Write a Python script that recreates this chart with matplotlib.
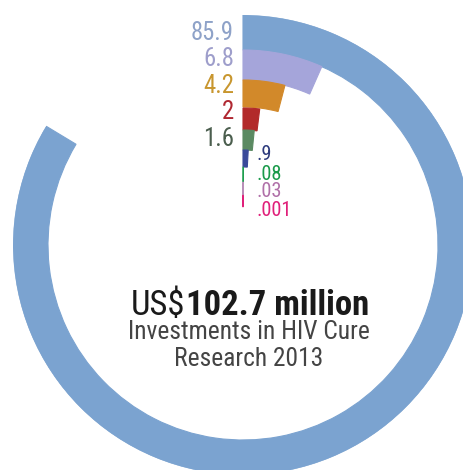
import numpy as np
import matplotlib
matplotlib.use("Agg")
import matplotlib.pyplot as plt
from matplotlib import font_manager

# funding in US$ million, one ring per source
total = 102.7
values = [85.9, 6.8, 4.2, 2, 1.6, .9, .08, .03, .001]
labels = ["85.9", "6.8", "4.2", "2", "1.6", ".9", ".08", ".03", ".001"]
bar_colors = ["#7ba3d0", "#a5a5da", "#d2892a", "#b22a2a", "#5b8a62",
              "#3a4a9a", "#1f9e4e", "#b98fb8", "#e0207a"]
label_colors = ["#8ea2c8", "#9e9ecb", "#c8962e", "#b02832", "#4b5e4e",
                "#2c3a7c", "#1a9a4a", "#b070a8", "#e0207a"]

# ring edges (pixels from the centre)
r_outer = [230, 195, 165, 137, 115, 95, 78, 63, 50]
r_inner = [195, 165, 138, 115, 95, 78, 63, 50, 38]

# pick a narrow sans if one is around
prefs = ["Roboto Condensed", "Fira Sans Condensed", "Archivo Narrow",
         "PT Sans Narrow", "Barlow Condensed", "IBM Plex Sans Condensed",
         "Open Sans Condensed", "Liberation Sans Narrow", "DejaVu Sans"]
have = {f.name for f in font_manager.fontManager.ttflist}
fam = [p for p in prefs if p in have][:1] + ["DejaVu Sans"]

W, H = 463, 470
fig = plt.figure(figsize=(W / 100, H / 100), dpi=100)
fig.patch.set_facecolor("white")
rend = fig.canvas.get_renderer()

# centre of the rings at (243, 245) px, outer radius 230 px
cx, cy, R = 243, 245, 230
ax = fig.add_axes([(cx - R) / W, (H - cy - R) / H, 2 * R / W, 2 * R / H],
                  projection="polar")
ax.set_theta_zero_location("N")
ax.set_theta_direction(-1)
ax.set_ylim(0, R)
ax.axis("off")

for v, c, ro, ri in zip(values, bar_colors, r_outer, r_inner):
    ax.bar(0, ro - ri, width=np.deg2rad(v / total * 360), bottom=ri,
           align="edge", color=c, edgecolor=c, linewidth=0.8)


def px(x, y):
    return x / W, 1 - y / H


def fit(texts, width, size_max):
    # shrink the font until the texts together are `width` pixels wide
    w = sum(t.get_window_extent(rend).width for t in texts)
    s = min(size_max, texts[0].get_fontsize() * width / w)
    for t in texts:
        t.set_fontsize(s)
    return s


# value labels: big ones left of the axis line, small ones right
big_y = [33, 59, 86, 112, 139]
small_y = [155, 174, 192, 210]
big = [fig.text(*px(234, big_y[i]), labels[i], color=label_colors[i],
                ha="right", va="center", fontsize=18, family=fam)
       for i in range(5)]
s = fit(big[:1], 43, 19)
for t in big:
    t.set_fontsize(s)
small = [fig.text(*px(257, small_y[j]), labels[5 + j],
                  color=label_colors[5 + j], ha="left", va="center",
                  fontsize=14, family=fam)
         for j in range(4)]
s = fit(small[-1:], 36, 15)
for t in small:
    t.set_fontsize(s)

# centre caption
t1 = fig.text(*px(131, 315), "US$", ha="left", va="baseline",
              fontsize=28, color="#1a1a1a", family=fam)
t2 = fig.text(*px(184, 315), "102.7 million", ha="left", va="baseline",
              fontsize=28, color="#1a1a1a", fontweight="bold", family=fam)
fit([t1, t2], 238, 30)
w1 = t1.get_window_extent(rend).width
t2.set_position(px(131 + w1, 315))

t3 = fig.text(*px(249, 339), "Investments in HIV Cure", ha="center",
              va="baseline", fontsize=20, color="#444444", family=fam)
s = fit([t3], 242, 22)
t4 = fig.text(*px(249, 366), "Research 2013", ha="center",
              va="baseline", fontsize=s, color="#444444", family=fam)

fig.savefig("out.png", dpi=100, facecolor="white")
